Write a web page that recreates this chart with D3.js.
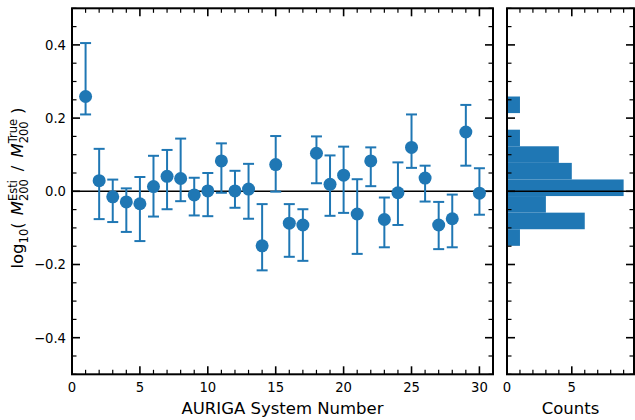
<!DOCTYPE html>
<html><head><meta charset="utf-8">
<script src="https://cdn.jsdelivr.net/npm/d3@7"></script>
<style>body{margin:0;background:#fff}svg{display:block}text{font-family:"DejaVu Sans",sans-serif}</style>
</head><body><svg id="c" width="635" height="420"></svg>
<script>
const systems = [1,2,3,4,5,6,7,8,9,10,11,12,13,14,15,16,17,18,19,20,21,22,23,24,25,26,27,28,29,30];
const values = [0.259,0.029,-0.015,-0.029,-0.034,0.013,0.041,0.035,-0.010,0.001,0.083,0.001,0.006,-0.149,0.073,-0.087,-0.092,0.104,0.019,0.044,-0.062,0.083,-0.077,-0.004,0.120,0.036,-0.092,-0.075,0.162,-0.005];
const errHigh = [0.405,0.116,0.032,0.008,0.039,0.097,0.113,0.144,0.037,0.050,0.131,0.056,0.075,-0.035,0.151,-0.035,-0.049,0.150,0.098,0.122,0.033,0.120,-0.017,0.079,0.210,0.070,-0.029,-0.009,0.236,0.063];
const errLow = [0.210,-0.076,-0.084,-0.111,-0.136,-0.069,-0.049,-0.027,-0.066,-0.068,-0.004,-0.045,-0.075,-0.216,-0.001,-0.179,-0.190,0.022,-0.067,-0.059,-0.171,0.014,-0.153,-0.092,0.064,-0.028,-0.158,-0.153,0.070,-0.064];
const xTicks = [0,5,10,15,20,25,30];
const yTicks = [-0.4,-0.2,0.0,0.2,0.4];
const histTicks = [0,5];
const nBins = 9;

const svg = d3.select("#c");
const blue = "#1f77b4";
const L = 72, R = 493, T = 8.3, B = 374.3;
const HL = 507, HR = 634;
const x = d3.scaleLinear().domain([0,31]).range([L,R]);
const y = d3.scaleLinear().domain([-0.5,0.5]).range([B,T]);
const hx = d3.scaleLinear().domain([0,9.8]).range([HL,HR]);

function fmt(d){ return d3.format(".1f")(d).replace("-","\u2212"); }

function ticksOn(g, dir, scale, majors, minors, x0, y0){
  const all = minors.map(v=>({v, major:false})).concat(majors.map(v=>({v,major:true})));
  all.forEach(t=>{
    const l = t.major ? 8 : 4.5;
    const p = scale(t.v);
    let a;
    if(dir==='left') a=[x0,p,x0+l,p];
    if(dir==='right') a=[x0,p,x0-l,p];
    if(dir==='bottom') a=[p,y0,p,y0-l];
    if(dir==='top') a=[p,y0,p,y0+l];
    g.append("line").attr("x1",a[0]).attr("y1",a[1]).attr("x2",a[2]).attr("y2",a[3])
      .attr("stroke","#000").attr("stroke-width",t.major?1.6:1.2);
  });
}

const gm = svg.append("g");
const yMinor = d3.range(-0.5,0.5001,0.05).map(v=>+v.toFixed(2)).filter(v=>!yTicks.some(t=>Math.abs(t-v)<1e-6));
const xMinor = d3.range(0,32,1).filter(v=>!xTicks.includes(v));
ticksOn(gm,'left',y,yTicks,yMinor,L,0);
ticksOn(gm,'right',y,yTicks,yMinor,R,0);
ticksOn(gm,'bottom',x,xTicks,xMinor,0,B);
ticksOn(gm,'top',x,xTicks,xMinor,0,T);

gm.append("line").attr("x1",L).attr("x2",R).attr("y1",y(0)).attr("y2",y(0)).attr("stroke","#000").attr("stroke-width",1.5);

const pts = gm.append("g");
systems.forEach((s,i)=>{
  const cx = x(s);
  pts.append("line").attr("x1",cx).attr("x2",cx).attr("y1",y(errLow[i])).attr("y2",y(errHigh[i])).attr("stroke",blue).attr("stroke-width",2);
  [errLow[i],errHigh[i]].forEach(v=>{
    pts.append("line").attr("x1",cx-5.5).attr("x2",cx+5.5).attr("y1",y(v)).attr("y2",y(v)).attr("stroke",blue).attr("stroke-width",2);
  });
  pts.append("circle").attr("cx",cx).attr("cy",y(values[i])).attr("r",6.5).attr("fill",blue);
});

gm.append("rect").attr("x",L).attr("y",T).attr("width",R-L).attr("height",B-T).attr("fill","none").attr("stroke","#000").attr("stroke-width",2);

xTicks.forEach(v=>{
  gm.append("text").attr("x",x(v)).attr("y",392).attr("text-anchor","middle").attr("font-size",13.2).text(v);
});
yTicks.forEach(v=>{
  gm.append("text").attr("x",66).attr("y",y(v)+4.8).attr("text-anchor","end").attr("font-size",13.2).text(fmt(v));
});
gm.append("text").attr("x",(L+R)/2).attr("y",413.5).attr("text-anchor","middle").attr("font-size",16.5).text("AURIGA System Number");

const vmin = d3.min(values), vmax = d3.max(values);
const thr = d3.range(1,nBins).map(i=>vmin+i*(vmax-vmin)/nBins);
const bins = d3.bin().domain([vmin,vmax]).thresholds(thr)(values);
const gh = svg.append("g");
bins.forEach(b=>{
  if(b.length===0) return;
  gh.append("rect").attr("x",hx(0)).attr("width",hx(b.length)-hx(0))
    .attr("y",y(b.x1)).attr("height",y(b.x0)-y(b.x1)).attr("fill",blue);
});
const hMinor = d3.range(0,10,1).filter(v=>!histTicks.includes(v));
ticksOn(gh,'left',y,yTicks,yMinor,HL,0);
ticksOn(gh,'right',y,yTicks,yMinor,HR,0);
ticksOn(gh,'bottom',hx,histTicks,hMinor,0,B);
ticksOn(gh,'top',hx,histTicks,hMinor,0,T);
gh.append("line").attr("x1",HL).attr("x2",HR).attr("y1",y(0)).attr("y2",y(0)).attr("stroke","#000").attr("stroke-width",1.5);
gh.append("rect").attr("x",HL).attr("y",T).attr("width",HR-HL).attr("height",B-T).attr("fill","none").attr("stroke","#000").attr("stroke-width",2);
histTicks.forEach(v=>{
  gh.append("text").attr("x",hx(v)).attr("y",392).attr("text-anchor","middle").attr("font-size",13.2).text(v);
});
gh.append("text").attr("x",(HL+HR)/2).attr("y",413.5).attr("text-anchor","middle").attr("font-size",16.5).text("Counts");

const yl = svg.append("g").attr("transform","translate(23,188) rotate(-90)");
const inner = yl.append("g");
let cur = 0;
const FS = 16.5, SS = 11.5;
function piece(txt, opts={}){
  const t = inner.append("text").attr("x",cur).attr("y",opts.dy||0).attr("font-size",opts.fs||FS)
    .attr("font-style",opts.it?"italic":null).text(txt);
  const w = t.node().getComputedTextLength();
  return {t,w};
}
function add(txt,opts){ const p=piece(txt,opts); cur+=p.w; }
function gap(w){ cur+=w; }
function stack(sup,sub){
  const a = piece(sup,{fs:SS,dy:-6.5});
  const b = piece(sub,{fs:SS,dy:4.5});
  cur += Math.max(a.w,b.w);
}
add("log");
add("10",{fs:SS,dy:4.5});
add("(");
gap(7);
add("M",{it:true});
stack("Esti","200");
gap(8);
add("/");
gap(8);
add("M",{it:true});
stack("True","200");
gap(5);
add(")");
inner.attr("transform",`translate(${-cur/2},0)`);
</script></body></html>
